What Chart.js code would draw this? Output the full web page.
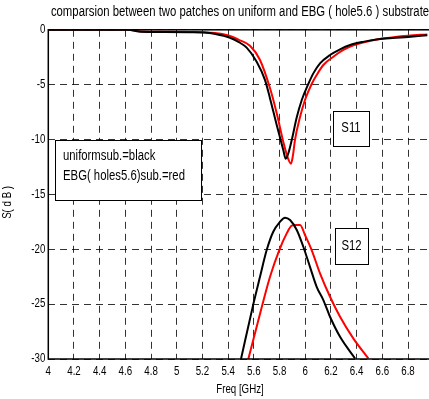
<!DOCTYPE html>
<html>
<head>
<meta charset="utf-8">
<script src="https://cdn.jsdelivr.net/npm/chart.js@4.4.1/dist/chart.umd.min.js"></script>
<style>
  html, body { margin: 0; padding: 0; overflow: hidden; background: #fff; }
  canvas { display: block; }
</style>
</head>
<body>
<canvas id="chart" width="440" height="399"></canvas>
<script>
// S11 / S12 of the two patches, frequency in GHz, magnitude in dB
const freqS11Uniform = [4.0, 4.3, 4.62, 4.72, 4.9, 5.1, 5.21, 5.3, 5.414, 5.48, 5.544, 5.622, 5.687, 5.726, 5.778, 5.829, 5.848, 5.87, 5.895, 5.934, 5.973, 6.024, 6.063, 6.115, 6.193, 6.271, 6.349, 6.45, 6.567, 6.68, 6.8, 6.95];
const s11Uniform = [0, 0, 0, -0.18, -0.2, -0.22, -0.25, -0.38, -0.72, -1.1, -1.63, -2.91, -4.58, -6.25, -8.68, -10.96, -11.75, -11.2, -10.05, -7.98, -6.4, -4.94, -3.97, -3.06, -2.3, -1.78, -1.39, -1.1, -0.87, -0.75, -0.65, -0.5];

const freqS11Ebg = [4.0, 4.3, 4.62, 4.72, 4.9, 5.1, 5.21, 5.3, 5.414, 5.48, 5.57, 5.648, 5.726, 5.78, 5.829, 5.865, 5.889, 5.905, 5.92, 5.959, 5.998, 6.05, 6.089, 6.141, 6.219, 6.297, 6.38, 6.5, 6.6, 6.7, 6.8, 6.95];
const s11Ebg = [0, 0, 0, -0.15, -0.18, -0.2, -0.22, -0.3, -0.55, -0.9, -1.45, -2.75, -5.33, -7.7, -10.2, -11.7, -12.2, -11.4, -10.05, -7.98, -6.4, -4.94, -4.12, -3.21, -2.45, -1.84, -1.4, -1.02, -0.8, -0.66, -0.55, -0.42];

const freqS12Uniform = [5.5, 5.596, 5.648, 5.70, 5.751, 5.80, 5.843, 5.882, 5.934, 5.985, 6.037, 6.089, 6.141, 6.193, 6.271, 6.388];
const s12Uniform = [-30, -25.0, -22.5, -20.07, -18.4, -17.55, -17.12, -17.34, -18.25, -19.77, -21.6, -23.42, -24.63, -26.15, -27.98, -29.95];

const freqS12Ebg = [5.557, 5.622, 5.726, 5.798, 5.856, 5.895, 5.928, 5.96, 5.998, 6.05, 6.115, 6.193, 6.271, 6.374, 6.491];
const s12Ebg = [-30, -27.06, -22.5, -20.07, -18.55, -17.85, -17.78, -17.78, -18.7, -20.07, -22.2, -24.33, -26.15, -28.12, -29.95];

// axis ranges
const freqRange = [4, 7];
const dbRange = [-30, 0];

const titleText = "comparsion between two patches on uniform and EBG ( hole5.6 ) substrate";
const xTitle = "Freq [GHz]";
const yTitle = "S( d B )";
const legendLines = ["uniformsub.=black", "EBG( holes5.6)sub.=red"];

// text boxes placed in data units: [x1, x2, yTop, yBottom]
const legendBox = [4.052, 5.189, -10, -15.5];
const s11Box = [6.214, 6.499, -7.37, -10.59];
const s12Box = [6.232, 6.491, -18.04, -21.35];

const FONT = "'Liberation Sans', Arial, sans-serif";
const SQUEEZE = 0.81; // condensed look of the labels

// horizontally condensed text, optionally turned to run bottom-to-top
function drawText(ctx, text, x, y, size, align, vertical) {
  ctx.save();
  ctx.translate(x, y);
  if (vertical) ctx.rotate(-Math.PI / 2);
  ctx.scale(SQUEEZE, 1);
  ctx.font = size + 'px ' + FONT;
  ctx.fillStyle = '#000';
  ctx.textAlign = align;
  ctx.textBaseline = 'middle';
  ctx.fillText(text, 0, 0);
  ctx.restore();
}

const pairUp = (xs, ys) => xs.map((x, i) => ({ x: x, y: ys[i] }));

// frame, tick labels, titles and the white text boxes
const notesPlugin = {
  id: 'notes',
  afterDatasetsDraw(chart) {
    const { ctx, chartArea: a, scales } = chart;
    const sx = scales.x, sy = scales.y;
    ctx.save();
    ctx.strokeStyle = '#000';
    ctx.lineWidth = 1.5;
    ctx.strokeRect(a.left, a.top, a.right - a.left, a.bottom - a.top);

    sx.ticks.forEach((t) => {
      drawText(ctx, String(+t.value.toFixed(1)), sx.getPixelForValue(t.value), a.bottom + 12.7, 12, 'center');
    });
    sy.ticks.forEach((t) => {
      drawText(ctx, String(t.value), a.left - 3, sy.getPixelForValue(t.value), 12, 'right');
    });

    const midX = (a.left + a.right) / 2;
    drawText(ctx, titleText, midX - 1, a.top - 17.8, 14, 'center');
    drawText(ctx, xTitle, midX - 1, a.bottom + 31, 12, 'center');
    drawText(ctx, yTitle, 8, (a.top + a.bottom) / 2 + 8, 12, 'center', true);

    const box = (b) => {
      const x1 = Math.round(sx.getPixelForValue(b[0])), x2 = Math.round(sx.getPixelForValue(b[1]));
      const y1 = Math.round(sy.getPixelForValue(b[2])), y2 = Math.round(sy.getPixelForValue(b[3]));
      ctx.fillStyle = '#fff';
      ctx.fillRect(x1, y1, x2 - x1, y2 - y1);
      ctx.strokeStyle = '#000';
      ctx.lineWidth = 1;
      ctx.strokeRect(x1 + 0.5, y1 + 0.5, x2 - x1, y2 - y1);
      return { x1, x2, y1, y2 };
    };

    const lb = box(legendBox);
    drawText(ctx, legendLines[0], lb.x1 + 8, lb.y1 + 16.5, 14, 'left');
    drawText(ctx, legendLines[1], lb.x1 + 8, lb.y1 + 36, 14, 'left');

    [[s11Box, 'S11'], [s12Box, 'S12']].forEach(([b, label]) => {
      const r = box(b);
      drawText(ctx, label, (r.x1 + r.x2) / 2, (r.y1 + r.y2) / 2, 14, 'center');
    });
    ctx.restore();
  }
};

const ctx = document.getElementById('chart').getContext('2d');

new Chart(ctx, {
  type: 'line',
  data: {
    datasets: [
      { data: pairUp(freqS11Uniform, s11Uniform), borderColor: '#000' },
      { data: pairUp(freqS12Uniform, s12Uniform), borderColor: '#000' },
      { data: pairUp(freqS11Ebg, s11Ebg), borderColor: '#ff0000' },
      { data: pairUp(freqS12Ebg, s12Ebg), borderColor: '#ff0000' },
    ],
  },
  options: {
    responsive: false,
    animation: false,
    layout: { padding: { left: 0, right: 6.3, top: 29.8, bottom: 0 } },
    elements: {
      point: { radius: 0 },
      line: { borderWidth: 2, cubicInterpolationMode: 'monotone', fill: false },
    },
    plugins: {
      legend: { display: false },
      tooltip: { enabled: false },
      title: { display: false },
    },
    scales: {
      x: {
        type: 'linear',
        min: freqRange[0],
        max: freqRange[1],
        afterFit: (s) => { s.height = 40; },
        ticks: { stepSize: 0.2, autoSkip: false, display: false },
        grid: { color: 'rgba(0,0,0,0.8)', lineWidth: 1, drawTicks: false },
        border: { display: false, dash: [7, 5] },
      },
      y: {
        min: dbRange[0],
        max: dbRange[1],
        afterFit: (s) => { s.width = 48.3; },
        ticks: { stepSize: 5, display: false },
        grid: { color: 'rgba(0,0,0,0.8)', lineWidth: 1, drawTicks: false },
        border: { display: false, dash: [7, 5] },
      },
    },
  },
  plugins: [notesPlugin],
});
</script>
</body>
</html>
